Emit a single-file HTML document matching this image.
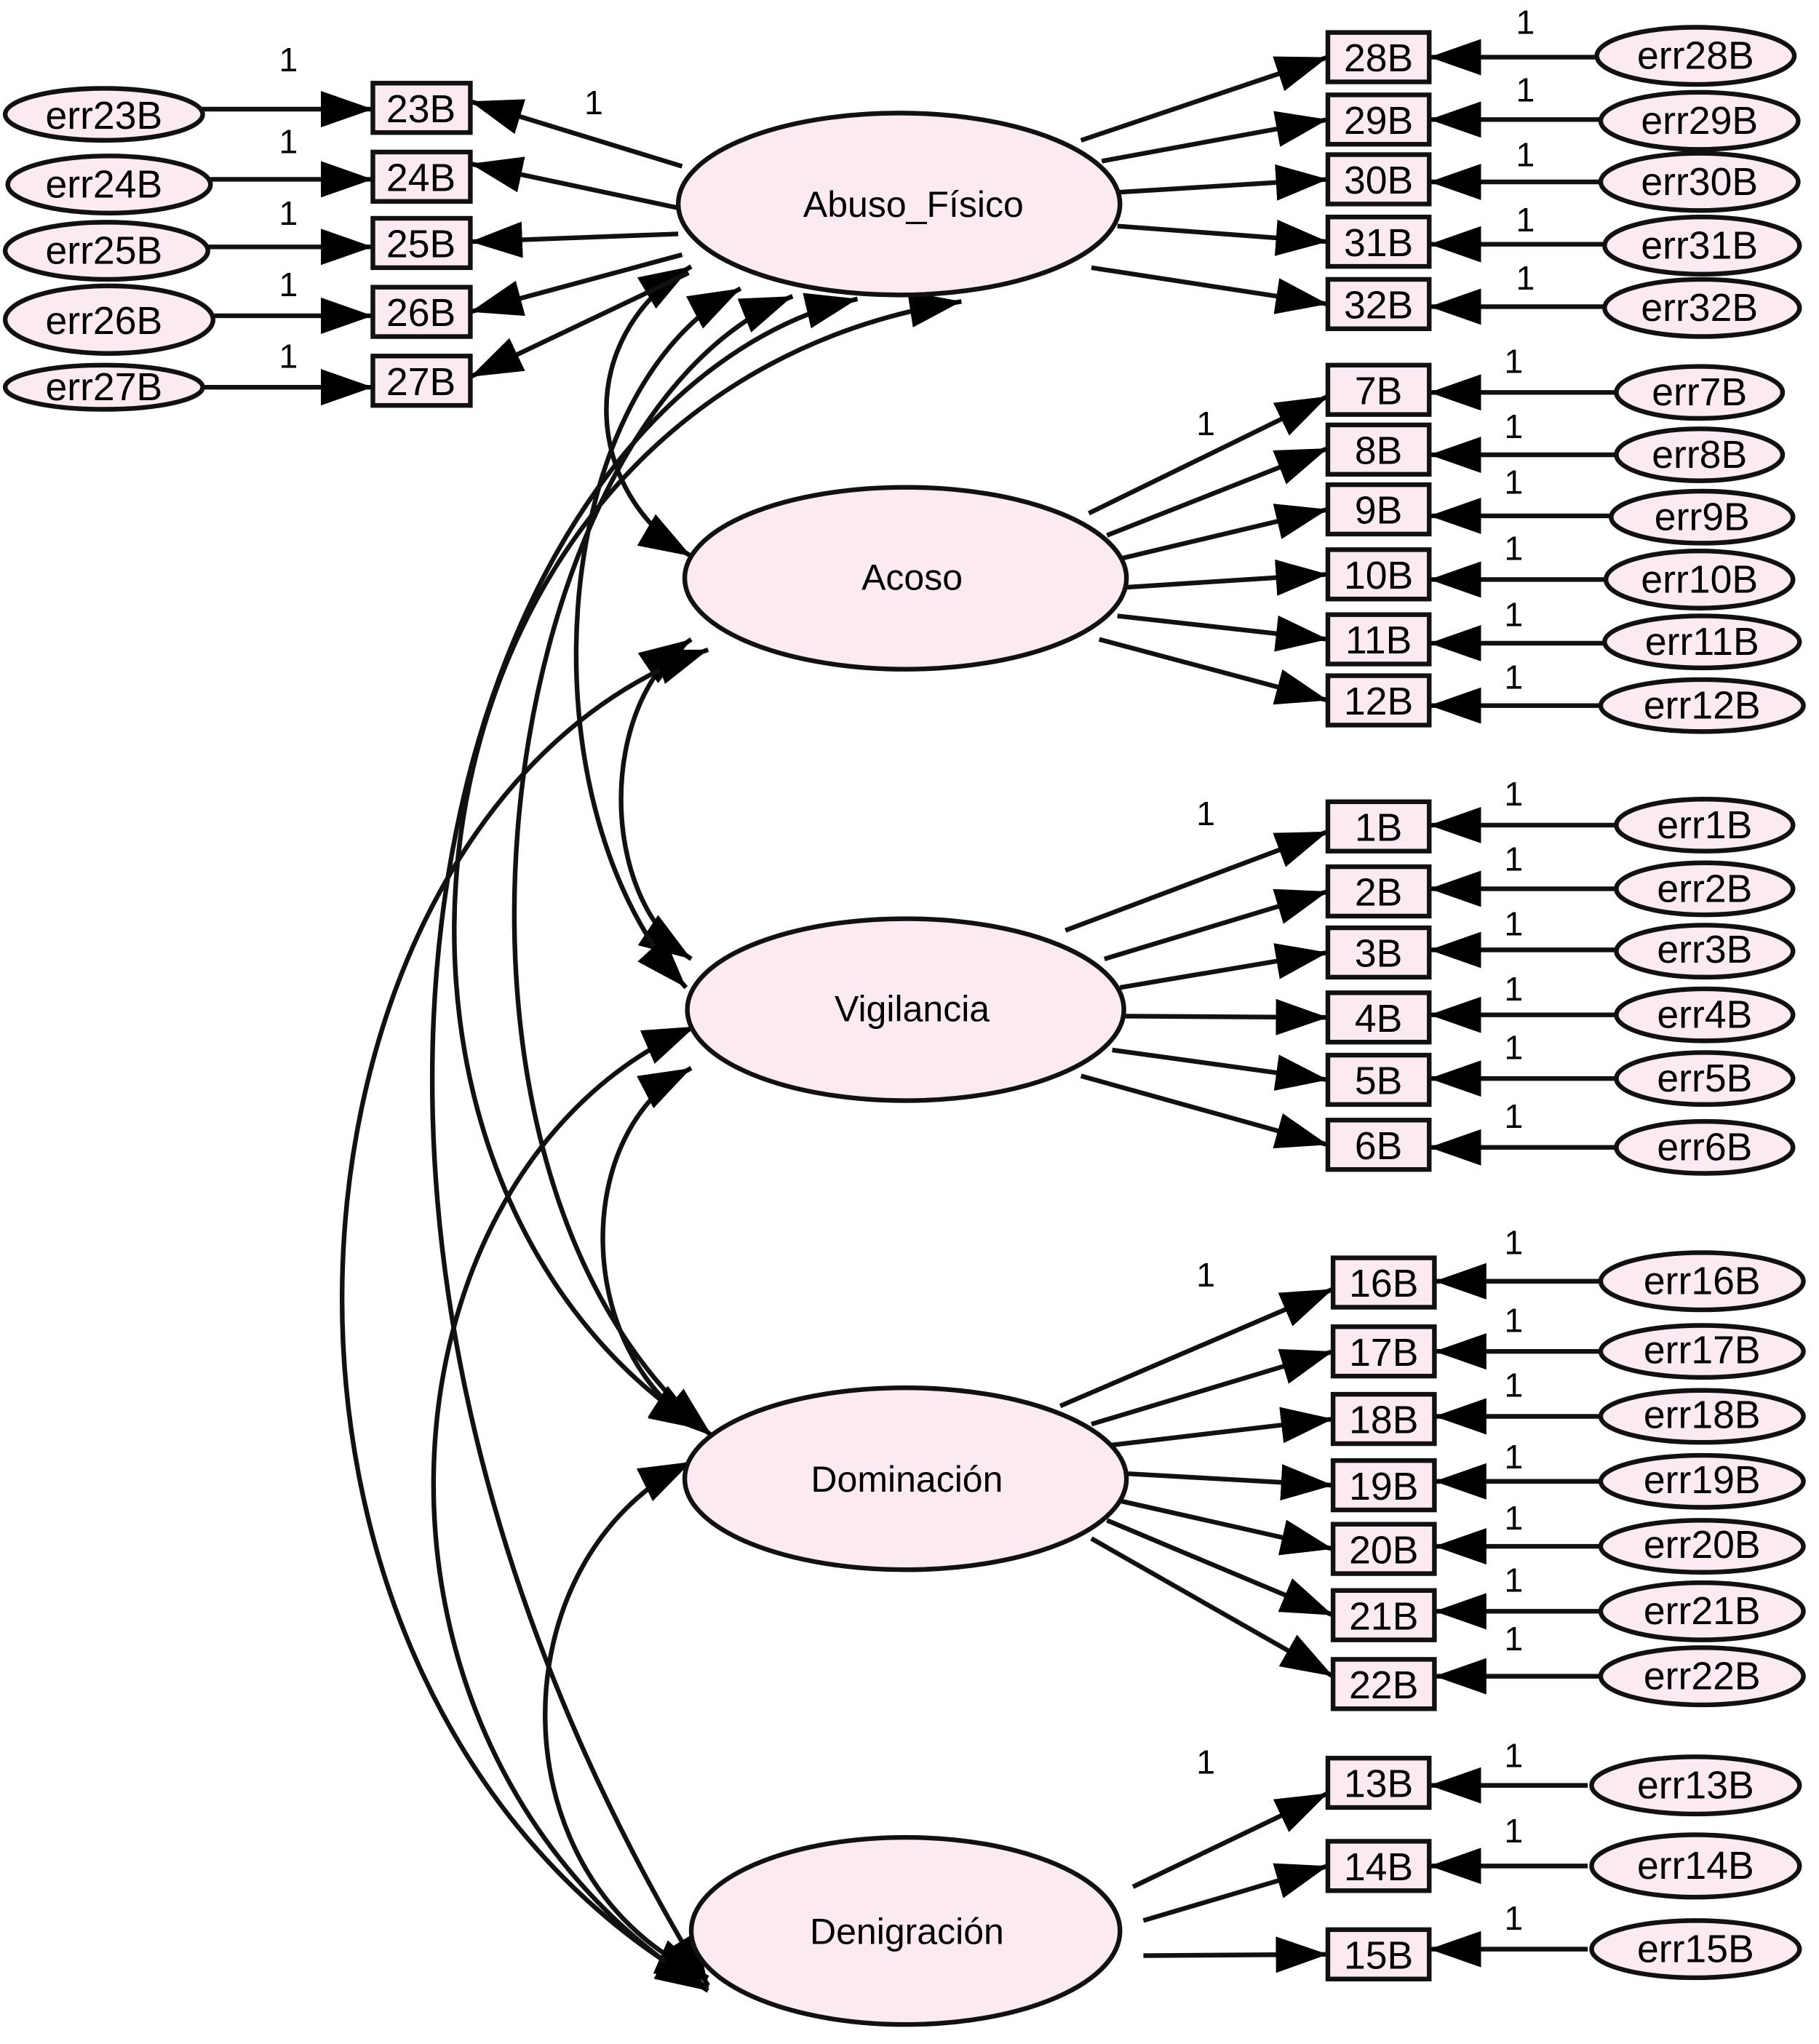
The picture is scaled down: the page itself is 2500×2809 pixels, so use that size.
<!DOCTYPE html>
<html><head><meta charset="utf-8"><style>
html,body{margin:0;padding:0;background:#fff}
svg{display:block}
text{font-family:"Liberation Sans",sans-serif;fill:#000}
</style></head><body>
<svg width="2500" height="2809" viewBox="0 0 1400 1573" preserveAspectRatio="none" xmlns="http://www.w3.org/2000/svg">
<defs>
<marker id="b" viewBox="0 0 10 10" refX="10" refY="5" markerWidth="40" markerHeight="28" markerUnits="userSpaceOnUse" orient="auto-start-reverse" preserveAspectRatio="none"><path d="M0,0 L10,5 L0,10 z" fill="#000"/></marker>
</defs>
<g stroke="#111" stroke-width="3.6" fill="none">
<path d="M532,205 C440,260 450,380 532,428" marker-start="url(#b)" marker-end="url(#b)"/>
<path d="M532,492 C460,540 460,690 532,738" marker-start="url(#b)" marker-end="url(#b)"/>
<path d="M532,822 C440,870 440,1040 540,1100" marker-start="url(#b)" marker-end="url(#b)"/>
<path d="M532,1125 C380,1200 380,1450 545,1522" marker-start="url(#b)" marker-end="url(#b)"/>
<path d="M570,222 C420,300 400,620 528,760" marker-start="url(#b)" marker-end="url(#b)"/>
<path d="M610,228 C380,320 300,900 548,1105" marker-start="url(#b)" marker-end="url(#b)"/>
<path d="M660,230 C360,300 160,900 545,1528" marker-start="url(#b)" marker-end="url(#b)"/>
<path d="M740,232 C300,300 230,900 540,1100" marker-start="url(#b)" marker-end="url(#b)"/>
<path d="M545,500 C200,620 140,1300 545,1530" marker-start="url(#b)" marker-end="url(#b)"/>
<path d="M535,790 C280,900 250,1350 545,1532" marker-start="url(#b)" marker-end="url(#b)"/>
<path d="M155,84 L287,84" marker-end="url(#b)"/>
<path d="M162,138 L287,138" marker-end="url(#b)"/>
<path d="M160,190 L287,190" marker-end="url(#b)"/>
<path d="M165,243 L287,243" marker-end="url(#b)"/>
<path d="M155,298 L287,298" marker-end="url(#b)"/>
<path d="M525,128 L362,78" marker-end="url(#b)"/>
<path d="M522,160 L362,126" marker-end="url(#b)"/>
<path d="M522,180 L362,186" marker-end="url(#b)"/>
<path d="M525,196 L362,240" marker-end="url(#b)"/>
<path d="M530,210 L362,290" marker-end="url(#b)"/>
<path d="M832,108 L1022,44" marker-end="url(#b)"/>
<path d="M848,124 L1022,92" marker-end="url(#b)"/>
<path d="M860,148 L1022,138" marker-end="url(#b)"/>
<path d="M860,174 L1022,186" marker-end="url(#b)"/>
<path d="M840,206 L1022,234" marker-end="url(#b)"/>
<path d="M838,395 L1022,305" marker-end="url(#b)"/>
<path d="M852,412 L1022,345" marker-end="url(#b)"/>
<path d="M862,430 L1022,392" marker-end="url(#b)"/>
<path d="M866,452 L1022,442" marker-end="url(#b)"/>
<path d="M860,474 L1022,492" marker-end="url(#b)"/>
<path d="M846,492 L1022,539" marker-end="url(#b)"/>
<path d="M820,716 L1022,640" marker-end="url(#b)"/>
<path d="M850,738 L1022,686" marker-end="url(#b)"/>
<path d="M862,760 L1022,733" marker-end="url(#b)"/>
<path d="M866,782 L1022,783" marker-end="url(#b)"/>
<path d="M856,808 L1022,831" marker-end="url(#b)"/>
<path d="M832,828 L1022,881" marker-end="url(#b)"/>
<path d="M816,1082 L1026,992" marker-end="url(#b)"/>
<path d="M840,1096 L1026,1040" marker-end="url(#b)"/>
<path d="M856,1112 L1026,1092" marker-end="url(#b)"/>
<path d="M866,1134 L1026,1143" marker-end="url(#b)"/>
<path d="M862,1155 L1026,1192" marker-end="url(#b)"/>
<path d="M852,1170 L1026,1243" marker-end="url(#b)"/>
<path d="M840,1184 L1026,1290" marker-end="url(#b)"/>
<path d="M872,1452 L1022,1380" marker-end="url(#b)"/>
<path d="M880,1478 L1022,1436" marker-end="url(#b)"/>
<path d="M880,1505 L1022,1504" marker-end="url(#b)"/>
<path d="M1230,44 L1100,44" marker-end="url(#b)"/>
<path d="M1232,92 L1100,92" marker-end="url(#b)"/>
<path d="M1232,140 L1100,140" marker-end="url(#b)"/>
<path d="M1236,188 L1100,188" marker-end="url(#b)"/>
<path d="M1236,236 L1100,236" marker-end="url(#b)"/>
<path d="M1245,302 L1100,302" marker-end="url(#b)"/>
<path d="M1245,350 L1100,350" marker-end="url(#b)"/>
<path d="M1245,397 L1100,397" marker-end="url(#b)"/>
<path d="M1238,446 L1100,446" marker-end="url(#b)"/>
<path d="M1238,495 L1100,495" marker-end="url(#b)"/>
<path d="M1232,543 L1100,543" marker-end="url(#b)"/>
<path d="M1243,635 L1100,635" marker-end="url(#b)"/>
<path d="M1243,684 L1100,684" marker-end="url(#b)"/>
<path d="M1243,731 L1100,731" marker-end="url(#b)"/>
<path d="M1243,781 L1100,781" marker-end="url(#b)"/>
<path d="M1243,830 L1100,830" marker-end="url(#b)"/>
<path d="M1243,883 L1100,883" marker-end="url(#b)"/>
<path d="M1232,986 L1104,986" marker-end="url(#b)"/>
<path d="M1232,1040 L1104,1040" marker-end="url(#b)"/>
<path d="M1232,1090 L1104,1090" marker-end="url(#b)"/>
<path d="M1232,1140 L1104,1140" marker-end="url(#b)"/>
<path d="M1232,1190 L1104,1190" marker-end="url(#b)"/>
<path d="M1232,1240 L1104,1240" marker-end="url(#b)"/>
<path d="M1232,1290 L1104,1290" marker-end="url(#b)"/>
<path d="M1222,1374 L1100,1374" marker-end="url(#b)"/>
<path d="M1222,1436 L1100,1436" marker-end="url(#b)"/>
<path d="M1222,1500 L1100,1500" marker-end="url(#b)"/>
</g>
<g fill="#fbeaf1" stroke="#111" stroke-width="3.6">
<ellipse cx="692" cy="157" rx="170" ry="70"/>
<ellipse cx="697" cy="445" rx="170" ry="70"/>
<ellipse cx="697" cy="777" rx="168" ry="70"/>
<ellipse cx="697" cy="1138" rx="170" ry="70"/>
<ellipse cx="697" cy="1486" rx="165" ry="72"/>
<ellipse cx="80" cy="88" rx="76" ry="20"/>
<ellipse cx="84" cy="142" rx="78" ry="22"/>
<ellipse cx="82" cy="193" rx="78" ry="22"/>
<ellipse cx="84" cy="246" rx="80" ry="26"/>
<ellipse cx="80" cy="298" rx="76" ry="17"/>
<ellipse cx="1305" cy="43" rx="76" ry="22"/>
<ellipse cx="1308" cy="93" rx="76" ry="22"/>
<ellipse cx="1308" cy="140" rx="76" ry="22"/>
<ellipse cx="1310" cy="189" rx="75" ry="22"/>
<ellipse cx="1310" cy="237" rx="75" ry="22"/>
<ellipse cx="1308" cy="302" rx="64" ry="20"/>
<ellipse cx="1308" cy="350" rx="64" ry="20"/>
<ellipse cx="1310" cy="398" rx="70" ry="20"/>
<ellipse cx="1308" cy="446" rx="72" ry="22"/>
<ellipse cx="1310" cy="494" rx="75" ry="20"/>
<ellipse cx="1310" cy="543" rx="78" ry="20"/>
<ellipse cx="1312" cy="635" rx="68" ry="20"/>
<ellipse cx="1312" cy="684" rx="68" ry="20"/>
<ellipse cx="1312" cy="732" rx="68" ry="20"/>
<ellipse cx="1312" cy="781" rx="68" ry="20"/>
<ellipse cx="1312" cy="830" rx="68" ry="20"/>
<ellipse cx="1312" cy="883" rx="68" ry="20"/>
<ellipse cx="1310" cy="986" rx="78" ry="22"/>
<ellipse cx="1310" cy="1040" rx="78" ry="20"/>
<ellipse cx="1310" cy="1090" rx="78" ry="20"/>
<ellipse cx="1310" cy="1140" rx="78" ry="20"/>
<ellipse cx="1310" cy="1190" rx="78" ry="20"/>
<ellipse cx="1310" cy="1240" rx="78" ry="22"/>
<ellipse cx="1310" cy="1290" rx="78" ry="22"/>
<ellipse cx="1305" cy="1374" rx="80" ry="22"/>
<ellipse cx="1305" cy="1436" rx="80" ry="24"/>
<ellipse cx="1305" cy="1500" rx="80" ry="22"/>
</g>
<g fill="#fbeaf1" stroke="#111" stroke-width="3.6">
<rect x="287" y="64" width="75" height="38"/>
<rect x="287" y="117" width="75" height="38"/>
<rect x="287" y="168" width="75" height="38"/>
<rect x="287" y="221" width="75" height="38"/>
<rect x="287" y="274" width="75" height="38"/>
<rect x="1022" y="25" width="78" height="38"/>
<rect x="1022" y="73" width="78" height="38"/>
<rect x="1022" y="119" width="78" height="38"/>
<rect x="1022" y="167" width="78" height="38"/>
<rect x="1022" y="215" width="78" height="38"/>
<rect x="1022" y="281" width="78" height="38"/>
<rect x="1022" y="327" width="78" height="38"/>
<rect x="1022" y="373" width="78" height="38"/>
<rect x="1022" y="423" width="78" height="38"/>
<rect x="1022" y="473" width="78" height="38"/>
<rect x="1022" y="520" width="78" height="38"/>
<rect x="1022" y="617" width="78" height="38"/>
<rect x="1022" y="667" width="78" height="38"/>
<rect x="1022" y="714" width="78" height="38"/>
<rect x="1022" y="764" width="78" height="38"/>
<rect x="1022" y="812" width="78" height="38"/>
<rect x="1022" y="862" width="78" height="38"/>
<rect x="1026" y="968" width="78" height="38"/>
<rect x="1026" y="1021" width="78" height="38"/>
<rect x="1026" y="1073" width="78" height="38"/>
<rect x="1026" y="1124" width="78" height="38"/>
<rect x="1026" y="1173" width="78" height="38"/>
<rect x="1026" y="1224" width="78" height="38"/>
<rect x="1026" y="1277" width="78" height="38"/>
<rect x="1022" y="1353" width="78" height="38"/>
<rect x="1022" y="1417" width="78" height="38"/>
<rect x="1022" y="1485" width="78" height="38"/>
</g>
<g font-size="28" text-anchor="middle">
<text x="703" y="167">Abuso_Físico</text>
<text x="702" y="454">Acoso</text>
<text x="702" y="786">Vigilancia</text>
<text x="698" y="1148">Dominación</text>
<text x="698" y="1496">Denigración</text>
</g>
<g font-size="30" text-anchor="middle">
<text x="80" y="99">err23B</text><text x="80" y="152">err24B</text><text x="80" y="203">err25B</text><text x="80" y="257">err26B</text><text x="80" y="308">err27B</text>
<text x="324" y="94">23B</text><text x="324" y="147">24B</text><text x="324" y="198">25B</text><text x="324" y="251">26B</text><text x="324" y="304">27B</text>
<text x="1061" y="55">28B</text><text x="1061" y="103">29B</text><text x="1061" y="149">30B</text><text x="1061" y="197">31B</text><text x="1061" y="245">32B</text>
<text x="1061" y="311">7B</text><text x="1061" y="357">8B</text><text x="1061" y="403">9B</text><text x="1061" y="453">10B</text><text x="1061" y="503">11B</text><text x="1061" y="550">12B</text>
<text x="1061" y="647">1B</text><text x="1061" y="697">2B</text><text x="1061" y="744">3B</text><text x="1061" y="794">4B</text><text x="1061" y="842">5B</text><text x="1061" y="892">6B</text>
<text x="1065" y="998">16B</text><text x="1065" y="1051">17B</text><text x="1065" y="1103">18B</text><text x="1065" y="1154">19B</text><text x="1065" y="1203">20B</text><text x="1065" y="1254">21B</text><text x="1065" y="1307">22B</text>
<text x="1061" y="1383">13B</text><text x="1061" y="1447">14B</text><text x="1061" y="1515">15B</text>
<text x="1305" y="53">err28B</text><text x="1308" y="103">err29B</text><text x="1308" y="150">err30B</text><text x="1308" y="199">err31B</text><text x="1308" y="247">err32B</text>
<text x="1308" y="312">err7B</text><text x="1308" y="360">err8B</text><text x="1310" y="408">err9B</text><text x="1308" y="456">err10B</text><text x="1310" y="504">err11B</text><text x="1310" y="553">err12B</text>
<text x="1312" y="645">err1B</text><text x="1312" y="694">err2B</text><text x="1312" y="741">err3B</text><text x="1312" y="791">err4B</text><text x="1312" y="840">err5B</text><text x="1312" y="893">err6B</text>
<text x="1310" y="996">err16B</text><text x="1310" y="1049">err17B</text><text x="1310" y="1099">err18B</text><text x="1310" y="1149">err19B</text><text x="1310" y="1199">err20B</text><text x="1310" y="1250">err21B</text><text x="1310" y="1300">err22B</text>
<text x="1305" y="1384">err13B</text><text x="1305" y="1446">err14B</text><text x="1305" y="1510">err15B</text>
</g>
<g font-size="26" text-anchor="middle">
<text x="222" y="55">1</text><text x="222" y="118">1</text><text x="222" y="173">1</text><text x="222" y="228">1</text><text x="222" y="283">1</text>
<text x="457" y="88">1</text>
<text x="928" y="335">1</text><text x="928" y="635">1</text><text x="928" y="990">1</text><text x="928" y="1365">1</text>
<text x="1174" y="26">1</text><text x="1174" y="78">1</text><text x="1174" y="128">1</text><text x="1174" y="178">1</text><text x="1174" y="223">1</text>
<text x="1165" y="287">1</text><text x="1165" y="337">1</text><text x="1165" y="380">1</text><text x="1165" y="431">1</text><text x="1165" y="482">1</text><text x="1165" y="530">1</text>
<text x="1165" y="620">1</text><text x="1165" y="670">1</text><text x="1165" y="720">1</text><text x="1165" y="770">1</text><text x="1165" y="815">1</text><text x="1165" y="868">1</text>
<text x="1165" y="965">1</text><text x="1165" y="1025">1</text><text x="1165" y="1075">1</text><text x="1165" y="1130">1</text><text x="1165" y="1177">1</text><text x="1165" y="1225">1</text><text x="1165" y="1270">1</text>
<text x="1165" y="1360">1</text><text x="1165" y="1418">1</text><text x="1165" y="1485">1</text>
</g>
</svg>
</body></html>
